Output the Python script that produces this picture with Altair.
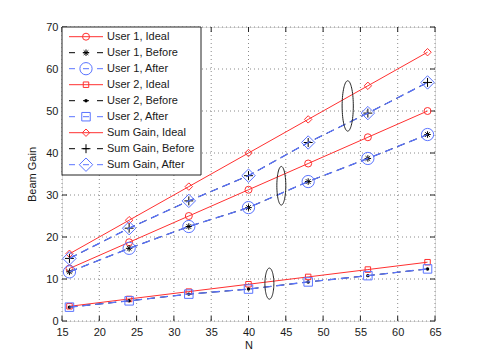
import altair as alt
import pandas as pd
import numpy as np

# ---------------- data ----------------
N = [16, 24, 32, 40, 48, 56, 64]
user1_ideal = [12.5, 18.75, 25.0, 31.25, 37.5, 43.75, 50.0]
user1_before = [11.7, 17.3, 22.5, 27.0, 33.2, 38.7, 44.4]
user1_after = [11.7, 17.3, 22.5, 27.0, 33.2, 38.7, 44.4]
user2_ideal = [3.5, 5.25, 7.0, 8.75, 10.5, 12.25, 14.0]
user2_before = [3.3, 4.8, 6.4, 7.6, 9.3, 10.8, 12.4]
user2_after = [3.3, 4.8, 6.4, 7.6, 9.3, 10.8, 12.4]
sum_ideal = [16.0, 24.0, 32.0, 40.0, 48.0, 56.0, 64.0]
sum_before = [14.9, 22.1, 28.6, 34.6, 42.5, 49.5, 56.8]
sum_after = [14.9, 22.1, 28.6, 34.6, 42.5, 49.5, 56.8]

series_names = ["User 1, Ideal", "User 1, Before", "User 1, After",
                "User 2, Ideal", "User 2, Before", "User 2, After",
                "Sum Gain, Ideal", "Sum Gain, Before", "Sum Gain, After"]
series_values = [user1_ideal, user1_before, user1_after,
                 user2_ideal, user2_before, user2_after,
                 sum_ideal, sum_before, sum_after]

x_ticks = [15, 20, 25, 30, 35, 40, 45, 50, 55, 60, 65]
y_ticks = [0, 10, 20, 30, 40, 50, 60, 70]

# annotation ellipses (centre / half-axes in data units)
ell_cx = [53.3, 44.4, 42.8]
ell_cy = [51.2, 32.2, 8.9]
ell_rx = [0.75, 0.6, 0.6]
ell_ry = [6.0, 4.6, 3.7]

# ---------------- styles ----------------
RED = "#ff3030"
BLUE = "#5a74ff"
BLACK = "#000000"
ASTER = "M-1,0L1,0M0,-1L0,1M-0.7,-0.7L0.7,0.7M-0.7,0.7L0.7,-0.7"
PLUS = "M-1,0L1,0M0,-1L0,1"

styles = {
    "User 1, Ideal": dict(color=RED, dash=[], shape="circle", size=49, filled=False),
    "User 1, Before": dict(color=BLACK, dash=[8, 5], shape=ASTER, size=42, filled=False),
    "User 1, After": dict(color=BLUE, dash=[8, 5], shape="circle", size=150, filled=False),
    "User 2, Ideal": dict(color=RED, dash=[], shape="square", size=30, filled=False),
    "User 2, Before": dict(color=BLACK, dash=[8, 5], shape="circle", size=12, filled=True),
    "User 2, After": dict(color=BLUE, dash=[8, 5], shape="square", size=72, filled=False),
    "Sum Gain, Ideal": dict(color=RED, dash=[], shape="diamond", size=55, filled=False),
    "Sum Gain, Before": dict(color=BLACK, dash=[8, 5], shape=PLUS, size=80, filled=False),
    "Sum Gain, After": dict(color=BLUE, dash=[8, 5], shape="diamond", size=180, filled=False),
}

W, H = 373, 294
FONT = "Liberation Sans"

xscale = alt.Scale(domain=[15, 65], nice=False, zero=False)
yscale = alt.Scale(domain=[0, 70], nice=False, zero=False)
xaxis = alt.Axis(values=x_ticks, title="N", grid=False, tickSize=0, labelPadding=5,
                 labelOverlap=False, labelFlush=False,
                 domain=False, labelFont=FONT, labelFontSize=11, labelColor="#1a1a1a",
                 titleFont=FONT, titleFontSize=11, titleFontWeight="normal",
                 titleColor="#1a1a1a", titlePadding=2)
yaxis = alt.Axis(values=y_ticks, title="Beam Gain", grid=False, tickSize=0, labelPadding=4,
                 labelOverlap=False, labelFlush=False,
                 domain=False, labelFont=FONT, labelFontSize=11, labelColor="#1a1a1a",
                 titleFont=FONT, titleFontSize=11, titleFontWeight="normal",
                 titleColor="#1a1a1a", titlePadding=8)


def X(f):
    return alt.X(f, scale=xscale, axis=xaxis)


def Y(f):
    return alt.Y(f, scale=yscale, axis=yaxis)


layers = []

# grid (dotted) + inward ticks
xt = pd.DataFrame({"t": x_ticks})
yt = pd.DataFrame({"t": y_ticks})
layers.append(alt.Chart(xt).mark_rule(color="#8a8a8a", strokeDash=[1, 3], strokeWidth=1).encode(
    x=X("t:Q"), y=alt.value(0), y2=alt.value(H)))
layers.append(alt.Chart(yt).mark_rule(color="#8a8a8a", strokeDash=[1, 3], strokeWidth=1).encode(
    y=Y("t:Q"), x=alt.value(0), x2=alt.value(W)))
for y0, y1 in [(H, H - 5), (0, 5)]:
    layers.append(alt.Chart(xt).mark_rule(color="#222", strokeWidth=1).encode(
        x=X("t:Q"), y=alt.value(y0), y2=alt.value(y1)))
for x0, x1 in [(0, 5), (W, W - 5)]:
    layers.append(alt.Chart(yt).mark_rule(color="#222", strokeWidth=1).encode(
        y=Y("t:Q"), x=alt.value(x0), x2=alt.value(x1)))

# data series
for name, vals in zip(series_names, series_values):
    st = styles[name]
    df = pd.DataFrame({"N": N, "v": vals})
    line_kw = dict(color=st["color"], strokeWidth=1.3 if st["color"] == BLUE else 1)
    if st["dash"]:
        line_kw["strokeDash"] = st["dash"]
    layers.append(alt.Chart(df).mark_line(**line_kw).encode(x=X("N:Q"), y=Y("v:Q")))
    pt_kw = dict(shape=st["shape"], size=st["size"], filled=st["filled"], color=st["color"],
                 strokeWidth=1, opacity=1)
    layers.append(alt.Chart(df).mark_point(**pt_kw).encode(x=X("N:Q"), y=Y("v:Q")))

# ellipses
rows = []
theta = np.linspace(0, 2 * np.pi, 73)
for k, (cx, cy, rx, ry) in enumerate(zip(ell_cx, ell_cy, ell_rx, ell_ry)):
    for j, t in enumerate(theta):
        rows.append({"e": k, "o": j, "x": cx + rx * np.cos(t), "y": cy + ry * np.sin(t)})
ell = pd.DataFrame(rows)
layers.append(alt.Chart(ell).mark_line(color="#222", strokeWidth=1).encode(
    x=X("x:Q"), y=Y("y:Q"), detail="e:N", order="o:Q"))

# legend (drawn manually, pixel positions in the view)
leg_box = alt.Chart(pd.DataFrame({"a": [0]})).mark_rect(
    fill="white", stroke="#222", strokeWidth=1).encode(
    x=alt.value(0), x2=alt.value(139), y=alt.value(0), y2=alt.value(148))
layers.append(leg_box)
for i, name in enumerate(series_names):
    st = styles[name]
    yy = 9.7 + i * 16
    d = pd.DataFrame({"label": [name]})
    lk = dict(color=st["color"], strokeWidth=1)
    if st["dash"]:
        lk["strokeDash"] = [6, 8]
    layers.append(alt.Chart(d).mark_rule(**lk).encode(
        x=alt.value(7), x2=alt.value(41), y=alt.value(yy)))
    layers.append(alt.Chart(d).mark_point(shape=st["shape"], size=st["size"], filled=st["filled"],
                                          color=st["color"], strokeWidth=1, opacity=1).encode(
        x=alt.value(24), y=alt.value(yy)))
    layers.append(alt.Chart(d).mark_text(align="left", baseline="middle", font=FONT, fontSize=11,
                                         color="#1a1a1a").encode(
        x=alt.value(45), y=alt.value(yy + 0.5), text="label:N"))

chart = alt.layer(*layers).properties(
    width=W, height=H,
    autosize=alt.AutoSizeParams(type="none"),
    padding={"left": 54, "top": 19, "right": 37, "bottom": 30},
).configure_view(stroke="#222", strokeWidth=1).configure(background="white")

chart.save("out.html", embed_options={"renderer": "svg", "actions": False})
